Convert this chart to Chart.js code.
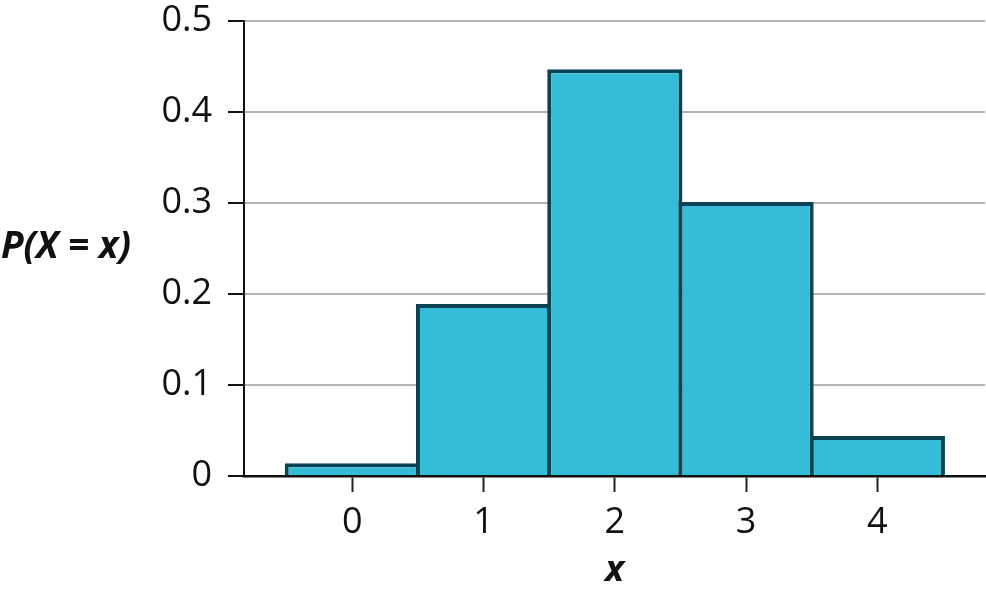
<!DOCTYPE html>
<html lang="en">
  <head>
    <meta charset="UTF-8" />
    <title>P(X = x)</title>
    <script src="https://cdn.jsdelivr.net/npm/chart.js@4.4.1/dist/chart.umd.min.js"></script>
    <style>
      html,
      body {
        margin: 0;
        padding: 0;
        background: white;
      }
      #wrap {
        width: 986px;
        height: 598px;
      }
    </style>
  </head>
  <body>
    <div id="wrap">
      <canvas id="probChart"></canvas>
    </div>
    <script>
      // values
      const xValues = [0, 1, 2, 3, 4];
      const xTickLabels = ["0", "1", "2", "3", "4"];
      const probs = [0.014, 0.189, 0.447, 0.301, 0.044];
      const yTickValues = [0, 0.1, 0.2, 0.3, 0.4, 0.5];
      const yTickLabels = ["0", "0.1", "0.2", "0.3", "0.4", "0.5"];
      const yTitle = "P(X = x)";
      const xTitle = "x";

      const FONT = "'Open Sans', 'Noto Sans', sans-serif";

      // y title sits horizontally to the left of the axis
      const sideTitle = {
        id: "sideTitle",
        afterDraw(chart) {
          const ctx = chart.ctx;
          ctx.save();
          ctx.font = "italic bold 37px " + FONT;
          ctx.fillStyle = "#111";
          ctx.textAlign = "center";
          ctx.textBaseline = "middle";
          ctx.fillText(yTitle, 66, 247);
          ctx.restore();
        },
      };

      new Chart(document.getElementById("probChart"), {
        type: "bar",
        data: {
          datasets: [
            {
              data: xValues.map((x, i) => ({ x: x, y: probs[i] })),
              backgroundColor: "#35BCD8",
              borderColor: "#0B4254",
              borderWidth: 4,
              borderSkipped: "start",
              barPercentage: 1.03,
              categoryPercentage: 1,
            },
          ],
        },
        options: {
          responsive: true,
          maintainAspectRatio: false,
          animation: false,
          layout: { padding: { left: 0, right: 1, top: 21, bottom: 6 } },
          plugins: {
            legend: { display: false },
            tooltip: { enabled: false },
          },
          scales: {
            x: {
              type: "linear",
              min: -0.825,
              max: 4.82,
              offset: false,
              afterBuildTicks: (s) => {
                s.ticks = xValues.map((v) => ({ value: v }));
              },
              afterFit: (s) => {
                s.height = 116;
              },
              ticks: {
                autoSkip: false,
                maxRotation: 0,
                padding: 9,
                color: "#111",
                font: { family: FONT, size: 36 },
                callback: (v, i) => xTickLabels[i],
              },
              grid: {
                offset: false,
                drawOnChartArea: false,
                drawTicks: true,
                tickLength: 16,
                tickColor: "#222",
                tickWidth: 2,
              },
              border: { display: true, color: "#111", width: 2.5 },
              title: {
                display: true,
                text: xTitle,
                color: "#111",
                padding: 0,
                font: { family: FONT, size: 36, style: "italic", weight: "bold" },
              },
            },
            y: {
              min: 0,
              max: 0.5,
              afterBuildTicks: (s) => {
                s.ticks = yTickValues.map((v) => ({ value: v }));
              },
              afterFit: (s) => {
                s.width = 244;
                s.paddingTop = 0;
                s.paddingBottom = 0;
              },
              ticks: {
                padding: 16,
                color: "#111",
                font: { family: FONT, size: 36 },
                callback: (v, i) => yTickLabels[i],
              },
              grid: {
                color: "#B5B5B5",
                lineWidth: 2,
                tickLength: 16,
                tickColor: "#111",
                tickWidth: 2,
              },
              border: { display: true, color: "#111", width: 2 },
            },
          },
        },
        plugins: [sideTitle],
      });
    </script>
  </body>
</html>
